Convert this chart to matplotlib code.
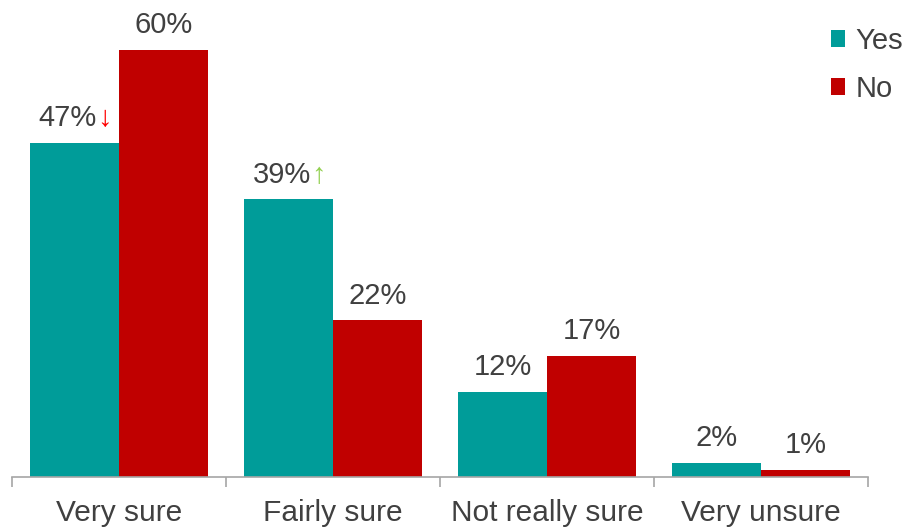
import matplotlib
matplotlib.use("Agg")
import matplotlib.pyplot as plt
import numpy as np

categories = ["Very sure", "Fairly sure", "Not really sure", "Very unsure"]
yes_values = [47, 39, 12, 2]
no_values = [60, 22, 17, 1]
# change markers shown after the "Yes" labels: (symbol, colour) or None
yes_marks = [("↓", "#FF0000"), ("↑", "#92D050"), None, None]

TEAL = "#009C99"
RED = "#C00000"
TEXT = "#404040"
AXIS = "#A6A6A6"
FONT = ["Liberation Sans", "DejaVu Sans"]

plt.rcParams["font.family"] = FONT

W, H = 905, 527
fig = plt.figure(figsize=(W / 100, H / 100), dpi=100)
ax = fig.add_axes([12 / W, 50 / H, 856 / W, 455 / H])

x = np.arange(len(categories))
w = 0.416
bars_yes = ax.bar(x - w / 2, yes_values, width=w, color=TEAL, label="Yes")
bars_no = ax.bar(x + w / 2, no_values, width=w, color=RED, label="No")

ax.set_xlim(-0.5, len(categories) - 0.5)
ax.set_ylim(0, 455 / (427 / 60))

fs_val = 21
fs_cat = 21.5
for i, (b, v) in enumerate(zip(bars_yes, yes_values)):
    cx = b.get_x() + b.get_width() / 2
    mark = yes_marks[i]
    shift = -5 if mark else 0
    t = ax.annotate(f"{v}%", xy=(cx, v), xytext=(shift, 12), textcoords="offset points",
                    ha="center", va="baseline", fontsize=fs_val, color=TEXT)
    if mark:
        ax.annotate(mark[0], xy=(1, 0), xycoords=t, xytext=(0, 0), textcoords="offset points",
                    ha="left", va="bottom", fontsize=fs_val, color=mark[1])
for b, v in zip(bars_no, no_values):
    cx = b.get_x() + b.get_width() / 2
    ax.annotate(f"{v}%", xy=(cx, v), xytext=(0, 12), textcoords="offset points",
                ha="center", va="baseline", fontsize=fs_val, color=TEXT)

for s in ["top", "right", "left"]:
    ax.spines[s].set_visible(False)
ax.spines["bottom"].set_color(AXIS)
ax.spines["bottom"].set_linewidth(1.2)
ax.set_yticks([])

ax.set_xticks(x)
ax.set_xticklabels(categories, fontsize=fs_cat, color=TEXT)
ax.tick_params(axis="x", which="major", length=0, pad=16)
ax.set_xticks(np.arange(len(categories) + 1) - 0.5, minor=True)
ax.tick_params(axis="x", which="minor", length=7, color=AXIS, width=1.2)

leg = fig.legend(handles=[bars_yes, bars_no], labels=["Yes", "No"],
                 loc="upper right", bbox_to_anchor=(903 / W, 1 - 27 / H), frameon=False,
                 fontsize=fs_val, handlelength=0.5, handleheight=0.5, handletextpad=0.35,
                 labelspacing=0.68, borderaxespad=0, borderpad=0)
for txt in leg.get_texts():
    txt.set_color(TEXT)

fig.savefig("out.png", dpi=100)
